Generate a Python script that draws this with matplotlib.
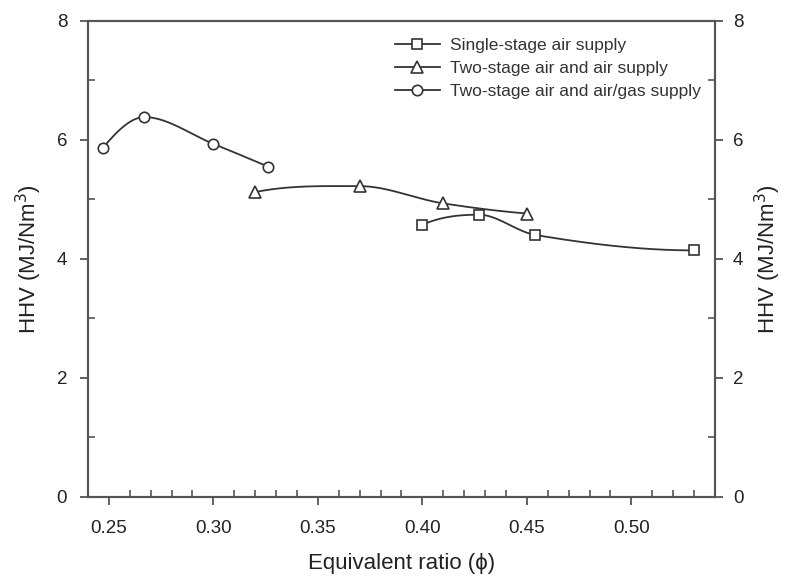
import numpy as np
import matplotlib
matplotlib.use("Agg")
import matplotlib.pyplot as plt
from matplotlib.ticker import MultipleLocator, FormatStrFormatter

plt.rcParams["font.family"] = ["Liberation Sans", "DejaVu Sans"]

# data
phi_single = [0.400, 0.427, 0.454, 0.530]
hhv_single = [4.57, 4.74, 4.40, 4.14]
phi_two_air = [0.320, 0.370, 0.410, 0.450]
hhv_two_air = [5.12, 5.22, 4.93, 4.76]
phi_two_gas = [0.247, 0.267, 0.300, 0.326]
hhv_two_gas = [5.86, 6.38, 5.93, 5.55]

labels = ["Single-stage air supply",
          "Two-stage air and air supply",
          "Two-stage air and air/gas supply"]
markers = ["s", "^", "o"]


def smooth(x, y, n=200):
    # monotone (pchip-style) cubic through the points, only for drawing the curve
    x = np.asarray(x, float); y = np.asarray(y, float)
    h = np.diff(x); d = np.diff(y) / h
    k = len(x)
    m = np.zeros(k)
    for i in range(1, k - 1):
        if d[i - 1] * d[i] > 0:
            w1 = 2 * h[i] + h[i - 1]; w2 = h[i] + 2 * h[i - 1]
            m[i] = (w1 + w2) / (w1 / d[i - 1] + w2 / d[i])
    m[0] = ((2 * h[0] + h[1]) * d[0] - h[0] * d[1]) / (h[0] + h[1])
    if np.sign(m[0]) != np.sign(d[0]):
        m[0] = 0
    m[-1] = ((2 * h[-1] + h[-2]) * d[-1] - h[-1] * d[-2]) / (h[-1] + h[-2])
    if np.sign(m[-1]) != np.sign(d[-1]):
        m[-1] = 0
    xs = np.linspace(x[0], x[-1], n)
    idx = np.clip(np.searchsorted(x, xs) - 1, 0, k - 2)
    hh = h[idx]
    t = (xs - x[idx]) / hh
    h00 = 2 * t**3 - 3 * t**2 + 1
    h10 = t**3 - 2 * t**2 + t
    h01 = -2 * t**3 + 3 * t**2
    h11 = t**3 - t**2
    ys = h00 * y[idx] + h10 * hh * m[idx] + h01 * y[idx + 1] + h11 * hh * m[idx + 1]
    return xs, ys


fig = plt.figure(figsize=(7.85, 5.79), dpi=100)
ax = fig.add_axes([0.1121, 0.1421, 0.7987, 0.8221])

lc = "#333333"
series = [(phi_single, hhv_single), (phi_two_air, hhv_two_air), (phi_two_gas, hhv_two_gas)]
sizes = [7, 8, 7.5]
for (xv, yv), mk, lab, ms in zip(series, markers, labels, sizes):
    xs, ys = smooth(xv, yv)
    ax.plot(xs, ys, color=lc, lw=1.3, zorder=2)
    ax.plot(xv, yv, ls="none", marker=mk, ms=ms, mfc="white", mec=lc, mew=1.2, zorder=3)
    ax.plot([], [], color=lc, lw=1.3, marker=mk, ms=ms, mfc="white", mec=lc, mew=1.2, label=lab)

ax.set_xlim(0.24, 0.54)
ax.set_ylim(0, 8)
ax.xaxis.set_major_locator(MultipleLocator(0.05))
ax.xaxis.set_minor_locator(MultipleLocator(0.01))
ax.yaxis.set_major_locator(MultipleLocator(2))
ax.yaxis.set_minor_locator(MultipleLocator(1))
ax.xaxis.set_major_formatter(FormatStrFormatter("%.2f"))

ax2 = ax.twinx()
ax2.set_ylim(0, 8)
ax2.yaxis.set_major_locator(MultipleLocator(2))
ax2.yaxis.set_minor_locator(MultipleLocator(1))

for a in (ax, ax2):
    for s in a.spines.values():
        s.set_color("#555555")
        s.set_linewidth(1.5)
    a.tick_params(which="major", direction="out", length=6, width=1.3, color="#555555",
                  labelsize=13.5, labelcolor="#222222", pad=7)
    a.tick_params(which="minor", direction="in", length=5, width=1.2, color="#555555")
ax.tick_params(axis="x", which="major", pad=11)
ax.tick_params(axis="y", which="major", pad=9)

ax.set_xlabel("Equivalent ratio (\u03d5)", fontsize=16, color="#222222", labelpad=11)
ax.set_ylabel("HHV (MJ/Nm$^3$)", fontsize=16, color="#222222", labelpad=9)
ax2.set_ylabel("HHV (MJ/Nm$^3$)", fontsize=16, color="#222222", labelpad=7)

leg = ax.legend(loc="upper left", bbox_to_anchor=(0.47, 0.99), frameon=False,
                fontsize=12.5, handlelength=2.6, handletextpad=0.6, labelspacing=0.45,
                borderaxespad=0.3)
for t in leg.get_texts():
    t.set_color("#333333")

plt.savefig("out.png", dpi=100)
print("chart saved")
